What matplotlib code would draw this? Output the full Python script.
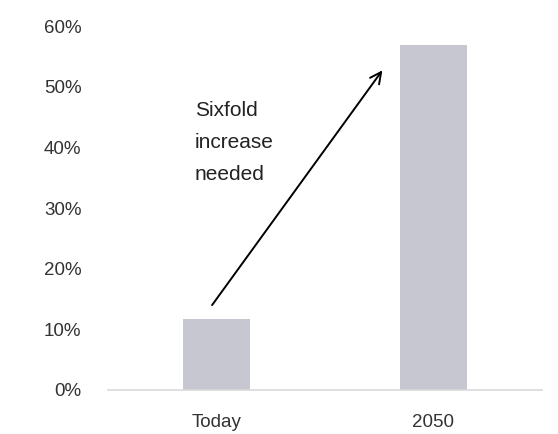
import matplotlib
matplotlib.use("Agg")
import matplotlib.pyplot as plt

# -------------------------------
# Data
# -------------------------------
categories = ["Today", "2050"]
values = [11.7, 56.8]
yticks = [0, 10, 20, 30, 40, 50, 60]
ytick_labels = ["0%", "10%", "20%", "30%", "40%", "50%", "60%"]
note = "Sixfold\nincrease\nneeded"

plt.rcParams["font.family"] = ["Liberation Sans", "DejaVu Sans"]

fig = plt.figure(figsize=(5.58, 4.34), dpi=100)
ax = fig.add_axes([0.1935, 0.1014, 0.7775, 0.8386])

x = range(len(categories))
ax.bar(x, values, width=0.31, color="#c7c7d1", zorder=2)

ax.set_xlim(-0.5, 1.5)
ax.set_ylim(0, 60)
ax.set_xticks(list(x))
ax.set_xticklabels(categories, fontsize=13.5, color="#333333")
ax.set_yticks(yticks)
ax.set_yticklabels(ytick_labels, fontsize=13.5, color="#333333")
ax.tick_params(axis="both", length=0)
ax.tick_params(axis="x", pad=17)
ax.tick_params(axis="y", pad=19)
for s in ["top", "right", "left"]:
    ax.spines[s].set_visible(False)
ax.spines["bottom"].set_color("#d9d9d9")
ax.spines["bottom"].set_linewidth(1.2)

# -------------------------------
# Arrow and note
# -------------------------------
ax.annotate("", xy=(0.765, 52.7), xytext=(-0.02, 14.0),
            arrowprops=dict(arrowstyle="->", color="black", lw=1.4,
                            mutation_scale=20, shrinkA=0, shrinkB=0))
ax.text(-0.10, 47.6, note, fontsize=15, color="#222222",
        ha="left", va="top", linespacing=1.85)

fig.savefig("out.png", dpi=100)
